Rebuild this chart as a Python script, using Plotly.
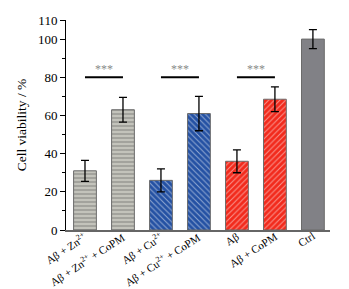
import plotly.graph_objects as go

categories = ["Aβ + Zn<sup>2+</sup>", "Aβ + Zn<sup>2+</sup> + CoPM", "Aβ + Cu<sup>2+</sup>",
              "Aβ + Cu<sup>2+</sup> + CoPM", "Aβ", "Aβ + CoPM", "Ctrl"]
values = [31, 63, 26, 61, 36, 68.5, 100]
errors = [5.5, 6.5, 6, 9, 6, 6.5, 5]
bg_colors = ["#c3c3bb", "#c3c3bb", "#2451a3", "#2451a3", "#f22a1c", "#f22a1c", "#818186"]
fg_colors = ["#7d7d78", "#7d7d78", "#7c9bd8", "#7c9bd8", "#ff9080", "#ff9080", "#818186"]
shapes_p = ["-", "-", "\\", "\\", "/", "/", ""]
sig_pairs = [(0, 1), (2, 3), (4, 5)]
sig_level = 80
sig_label = "***"

xs = list(range(len(categories)))
SERIF = "Liberation Serif, Times New Roman, Times, serif"

fig = go.Figure()
fig.add_trace(go.Bar(
    x=xs, y=values, width=0.6,
    marker=dict(color=bg_colors, line=dict(color="#6b6b6b", width=1),
                pattern=dict(shape=shapes_p, fgcolor=fg_colors,
                             size=4, solidity=0.25, fillmode="overlay")),
    error_y=dict(type="data", array=errors, color="black", thickness=1.3, width=4),
))

for a, b in sig_pairs:
    fig.add_shape(type="line", x0=a, x1=b, y0=sig_level, y1=sig_level,
                  xref="x", yref="y", line=dict(color="black", width=2))
    fig.add_annotation(x=(a + b) / 2, y=sig_level, yshift=8, text=sig_label,
                       showarrow=False, font=dict(size=12, color="#8a8a8a", family=SERIF),
                       xref="x", yref="y")

# category labels, rotated, anchored at their upper-right end under each bar
for i, lab in zip(xs, categories):
    fig.add_annotation(x=i, y=0, xref="x", yref="y", text=lab, showarrow=False,
                       textangle=-33, xanchor="right", yanchor="top",
                       xshift=7, yshift=3,
                       font=dict(size=11, family=SERIF, color="black"))

fig.update_layout(
    width=349, height=289,
    margin=dict(l=58, r=27, t=12, b=67),
    paper_bgcolor="white", plot_bgcolor="white",
    font=dict(family=SERIF, size=13, color="black"),
    showlegend=False,
    bargap=0.4,
)
fig.update_xaxes(
    range=[-0.5, 6.45], tickvals=xs, showticklabels=False,
    showline=True, linecolor="#666666", linewidth=2, ticks="",
    showgrid=False, zeroline=False, automargin=False,
)
fig.update_yaxes(
    range=[0, 110], tickvals=[0, 20, 40, 60, 80, 100, 110],
    showline=True, linecolor="black", linewidth=1, ticks="outside", ticklen=5,
    tickcolor="black", tickfont=dict(size=13, family=SERIF),
    minor=dict(tickvals=[10, 30, 50, 70, 90], ticks="outside", ticklen=3, tickcolor="black"),
    showgrid=False, zeroline=False, automargin=False,
    title=dict(text="Cell viability / %", font=dict(size=13.5, family=SERIF), standoff=8),
)

fig.write_html("out.html")
